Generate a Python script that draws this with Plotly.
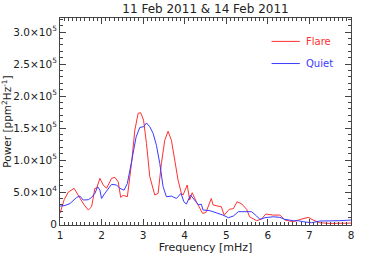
import plotly.graph_objects as go

title_text = "11 Feb 2011 &amp; 14 Feb 2011"

flare_freq = [1.00, 1.10, 1.20, 1.34, 1.46, 1.58, 1.68, 1.76, 1.84, 1.88, 1.96, 2.04, 2.12, 2.24, 2.32,
              2.40, 2.46, 2.52, 2.62, 2.72, 2.80, 2.88, 2.94, 3.01, 3.08, 3.16, 3.28, 3.36, 3.44,
              3.52, 3.60, 3.68, 3.76, 3.84, 3.92, 3.96, 4.06, 4.12, 4.18, 4.28, 4.43, 4.51, 4.64,
              4.68, 4.80, 4.88, 4.95, 5.07, 5.17, 5.26, 5.37, 5.49, 5.56, 5.73, 5.85, 5.95, 6.13,
              6.29, 6.41, 6.61, 6.77, 6.97, 7.09, 7.25, 7.49, 7.73, 7.97, 8.00]
flare_power = [16700, 38000, 50000, 55800, 42700, 30000, 21900, 27000, 55800, 56000, 71400, 61000, 55800,
               71400, 73000, 66000, 41700, 44800, 42700, 94800, 146900, 173000, 174000, 162500,
               126000, 74000, 45300, 48000, 94800, 131000, 145000, 131000, 100000, 68700, 48000,
               45300, 61000, 37500, 49000, 34800, 16700, 18000, 40000, 30000, 28000, 27000, 14000,
               23000, 24000, 34800, 31500, 23000, 11400, 5200, 8000, 15600, 14000, 14000, 6250,
               3600, 7000, 10400, 6250, 2000, 1000, 1000, 1500, 1500]

quiet_freq = [1.00, 1.12, 1.24, 1.40, 1.48, 1.56, 1.68, 1.76, 1.84, 1.905, 1.96, 2.00, 2.08, 2.16, 2.24,
              2.36, 2.44, 2.54, 2.62, 2.72, 2.83, 2.92, 3.01, 3.08, 3.16, 3.24, 3.32, 3.40, 3.48,
              3.56, 3.68, 3.80, 3.91, 3.98, 4.04, 4.14, 4.24, 4.33, 4.40, 4.44, 4.60, 4.76, 4.92,
              5.05, 5.17, 5.29, 5.45, 5.61, 5.73, 5.81, 5.93, 6.13, 6.29, 6.41, 6.61, 6.73, 6.85,
              7.05, 7.25, 7.49, 7.73, 8.00]
quiet_power = [28000, 29000, 32000, 41700, 43700, 37500, 38000, 41700, 48000, 58300, 53000, 40000,
               48000, 55800, 62000, 61000, 55800, 53000, 63500, 97000, 136000, 151000, 152000,
               158000, 152000, 141700, 123000, 94800, 58300, 42700, 43700, 40000, 48000, 34800,
               31200, 45300, 37500, 30000, 31000, 21900, 21000, 17700, 14000, 9900, 12500, 19300,
               19300, 19300, 12500, 7300, 9900, 11400, 10400, 7300, 5200, 5200, 3600, 2000, 4700,
               4700, 5200, 6250]

x_ticks = [1, 2, 3, 4, 5, 6, 7, 8]
y_ticks = [0, 50000, 100000, 150000, 200000, 250000, 300000]
y_ticklabels = ["0", "5.0×10<sup>4</sup>", "1.0×10<sup>5</sup>", "1.5×10<sup>5</sup>",
                "2.0×10<sup>5</sup>", "2.5×10<sup>5</sup>", "3.0×10<sup>5</sup>"]

legend_names = ["Flare", "Quiet"]
legend_colors = ["#ff3030", "#3a3aff"]

FONT = "DejaVu Sans"
AX = "#444444"
TXT = "#222222"

fig = go.Figure()
fig.add_trace(go.Scatter(x=flare_freq, y=flare_power, mode="lines",
                         line=dict(color=legend_colors[0], width=1), name=legend_names[0]))
fig.add_trace(go.Scatter(x=quiet_freq, y=quiet_power, mode="lines",
                         line=dict(color=legend_colors[1], width=1), name=legend_names[1]))

# legend drawn manually (IDL style)
leg_y = [0.887, 0.78]
for name, col, yy in zip(legend_names, legend_colors, leg_y):
    fig.add_shape(type="line", xref="paper", yref="paper", x0=0.727, x1=0.824, y0=yy, y1=yy,
                  line=dict(color=col, width=1))
    fig.add_annotation(xref="paper", yref="paper", x=0.84, y=yy, text=name, showarrow=False,
                       xanchor="left", yanchor="middle", font=dict(family=FONT, size=10, color=col))

fig.update_layout(
    width=369, height=264,
    margin=dict(l=60, r=18, t=18, b=39),
    plot_bgcolor="white", paper_bgcolor="white",
    showlegend=False,
    title=dict(text=title_text, x=0.557, xanchor="center", y=0.966, yanchor="middle",
               font=dict(family=FONT, size=12, color=TXT)),
    font=dict(family=FONT, size=10, color=TXT),
)

fig.update_xaxes(
    range=[1, 8], tickvals=x_ticks, ticktext=[str(v) for v in x_ticks],
    ticks="inside", ticklen=6, tickwidth=1, tickcolor=AX,
    showline=True, linecolor=AX, linewidth=1, mirror="allticks",
    showgrid=False, zeroline=False, automargin=False,
    minor=dict(dtick=0.1, tick0=1, ticks="inside", ticklen=3, tickcolor=AX, showgrid=False),
    title=dict(text="Frequency [mHz]", font=dict(family=FONT, size=11, color=TXT), standoff=2),
    tickfont=dict(family=FONT, size=10.5, color=TXT),
)
fig.update_yaxes(
    range=[-1500, 322000], tickvals=y_ticks, ticktext=y_ticklabels,
    ticks="inside", ticklen=6, tickwidth=1, tickcolor=AX,
    showline=True, linecolor=AX, linewidth=1, mirror="allticks",
    showgrid=False, zeroline=False, automargin=False,
    minor=dict(dtick=10000, tick0=0, ticks="inside", ticklen=3, tickcolor=AX, showgrid=False),
    title=dict(text="Power [ppm<sup>2</sup>Hz<sup>-1</sup>]", font=dict(family=FONT, size=10.5, color=TXT),
               standoff=2),
    tickfont=dict(family=FONT, size=10.5, color=TXT),
)

fig.write_html("out.html", config={"displayModeBar": False},
               post_script="document.body.style.margin='0';")
